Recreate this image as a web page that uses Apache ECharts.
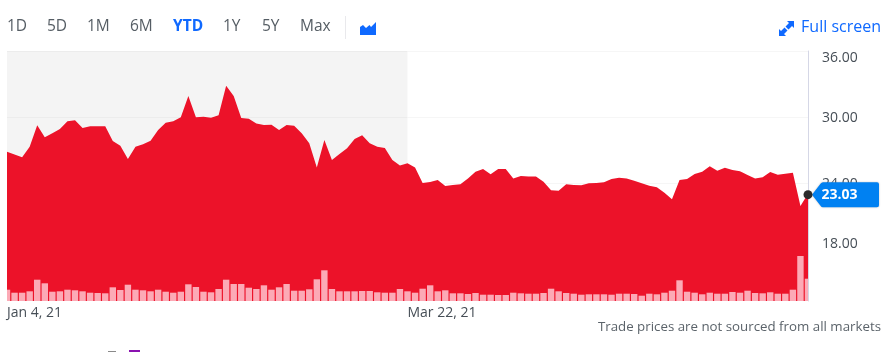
<!DOCTYPE html>
<html>
<head>
<meta charset="utf-8">
<style>
  html, body { margin: 0; padding: 0; background: #fff; }
  #chart { width: 892px; height: 352px; }
</style>
</head>
<body>
<div id="chart"></div>
<script src="https://cdn.jsdelivr.net/npm/echarts@6/dist/echarts.min.js"></script>
<script>
const priceValues = [
  26.85, 26.58, 26.33, 27.30, 29.24, 28.15, 28.52, 28.91, 29.61, 29.70,
  29.00, 29.15, 29.15, 29.15, 27.82, 27.39, 26.18, 27.30, 27.52, 27.85,
  28.82, 29.48, 29.61, 29.97, 31.91, 29.97, 30.03, 29.94, 30.15, 32.85,
  31.91, 29.91, 29.85, 29.42, 29.27, 29.30, 28.82, 29.27, 29.21, 28.52,
  27.61, 25.42, 27.91, 26.09, 26.64, 27.15, 28.00, 28.33, 27.61, 27.30,
  27.18, 26.09, 25.58, 25.79, 25.42, 24.00, 24.09, 24.27, 23.73, 23.82,
  23.88, 24.42, 25.03, 25.27, 24.79, 25.27, 25.27, 24.42, 24.64, 24.58,
  24.58, 24.12, 23.33, 23.30, 23.88, 23.82, 23.79, 23.97, 24.00, 24.06,
  24.36, 24.48, 24.42, 24.21, 23.97, 23.76, 23.61, 23.12, 22.52, 24.27,
  24.36, 24.82, 25.03, 25.52, 25.12, 25.39, 25.18, 25.06, 24.73, 24.42,
  24.52, 25.00, 24.76, 24.85, 24.94, 21.91, 23.03
]
const volumeValues = [
  11.3, 8.3, 8.3, 9.7, 21.3, 17.7, 9.3, 9.7, 11.3, 10.7,
  9.7, 8.3, 8, 7.7, 13.7, 11, 16.3, 11.3, 10.7, 9.7,
  11.3, 9.3, 8.3, 9.3, 16.7, 14, 9.3, 8.7, 12, 21.3,
  17, 17, 13.3, 12, 15.7, 11.3, 13.7, 17, 10.3, 10.3,
  11.7, 21.7, 30.7, 12, 9.7, 9.7, 9.7, 10, 10, 8.7,
  8.3, 8.3, 12, 9.7, 8.3, 12.3, 15.7, 9.7, 10.7, 7.7,
  7.7, 7, 8, 6.3, 6.3, 6, 6, 8.3, 7.7, 7.3,
  7.3, 8, 12.3, 9.7, 8, 7.3, 6.3, 6.7, 6.7, 6.7,
  6.3, 7.3, 7.3, 7, 5.3, 7.3, 6.7, 8.3, 10.3, 20.7,
  9.3, 8.3, 6.7, 8.3, 7.3, 7.3, 9, 8.3, 10.3, 8,
  7.7, 8.7, 7.3, 7.3, 11.3, 45, 22.3
]
const dateTicks = { 0: 'Jan 4, 21', 53: 'Mar 22, 21' }
const priceTicks = [18, 24, 30, 36]
const rangeButtons = ['1D', '5D', '1M', '6M', 'YTD', '1Y', '5Y', 'Max']
const rangeButtonX = [7, 47, 87, 130, 173, 223, 262, 300]
const lastPrice = 23.03
const shadedUntil = 53

const FONT = '"Open Sans", sans-serif'
const BLUE = '#0f69ff'
const GREY = '#464e56'

const categories = priceValues.map((v, i) => dateTicks[i] || String(i))

const rangeTexts = rangeButtons.map((name, i) => ({
  type: 'text',
  left: rangeButtonX[i],
  top: 19,
  style: {
    text: name,
    font: (name === 'YTD' ? 'bold ' : '') + '15.5px ' + FONT,
    fill: name === 'YTD' ? BLUE : '#555d64'
  }
}))

// bars are clipped to the grid, the built-in bar series lets the first and last overflow
const renderVolume = (params, api) => {
  const top = api.coord([api.value(0), api.value(1)])
  const base = api.coord([api.value(0), 0])
  const rect = echarts.graphic.clipRectByRect(
    { x: top[0] - 3.2, y: top[1], width: 6.4, height: base[1] - top[1] },
    params.coordSys
  )
  return rect && { type: 'rect', shape: rect, style: { fill: '#fcaab6' } }
}

const chart = echarts.init(document.getElementById('chart'))
chart.setOption({
  animation: false,
  textStyle: { fontFamily: FONT },
  grid: { left: 7, right: 84, top: 51, height: 250 },
  xAxis: {
    type: 'category',
    data: categories,
    boundaryGap: false,
    axisLine: { show: false },
    axisTick: { show: false },
    splitLine: { show: false },
    axisLabel: {
      interval: (i) => dateTicks[i] !== undefined,
      align: 'left',
      margin: 5,
      fontSize: 14,
      color: GREY,
      fontFamily: FONT
    }
  },
  yAxis: [
    {
      type: 'value',
      position: 'right',
      min: 36 - 250 / 11,
      max: 36,
      axisLine: { show: true, lineStyle: { color: '#d5d7e6', width: 1 } },
      axisTick: { show: false, customValues: priceTicks },
      splitLine: { show: true, lineStyle: { color: 'rgba(0,0,0,0.035)', width: 1 } },
      axisLabel: {
        customValues: priceTicks,
        margin: 14,
        color: GREY,
        fontSize: 14,
        fontFamily: FONT,
        formatter: (v) => {
          const text = v.toFixed(2)
          if (v === 36) return '{top|' + text + '}'
          if (v === 18) return '{bottom|' + text + '}'
          return '{mid|' + text + '}'
        },
        rich: {
          top: { padding: [14, 0, 0, 0], fontSize: 14, color: GREY, fontFamily: FONT },
          mid: { padding: [2, 0, 0, 0], fontSize: 14, color: GREY, fontFamily: FONT },
          bottom: { padding: [0, 0, 10, 0], fontSize: 14, color: GREY, fontFamily: FONT }
        }
      }
    },
    {
      type: 'value',
      show: false,
      min: 0,
      max: 250,
      splitLine: { show: false }
    }
  ],
  series: [
    {
      name: 'Price',
      type: 'line',
      data: priceValues,
      symbol: 'none',
      z: 3,
      lineStyle: { width: 0 },
      areaStyle: { color: '#ec1229', opacity: 1, origin: 'start' },
      markArea: {
        silent: true,
        itemStyle: { color: 'rgba(0,0,0,0.043)' },
        data: [[{ xAxis: 0 }, { xAxis: shadedUntil }]]
      }
    },
    {
      name: 'Volume',
      type: 'custom',
      yAxisIndex: 1,
      data: volumeValues.map((v, i) => [i, v]),
      encode: { x: 0, y: 1 },
      renderItem: renderVolume,
      z: 4
    },
    {
      name: 'Last',
      type: 'line',
      data: [],
      z: 10,
      markPoint: {
        silent: true,
        animation: false,
        data: [
          {
            coord: [priceValues.length - 1, lastPrice],
            symbol: 'path://M0 12.5 L8.5 1.5 Q9.5 0 11 0 L65 0 Q67 0 67 2 L67 23 Q67 25 65 25 L11 25 Q9.5 25 8.5 23.5 Z',
            symbolSize: [67, 25],
            symbolOffset: [37.5, 1],
            itemStyle: { color: '#0081f2', shadowBlur: 2, shadowColor: 'rgba(0,0,0,0.25)' },
            label: {
              show: true,
              formatter: lastPrice.toFixed(2),
              color: '#fff',
              fontSize: 14,
              fontWeight: 'bold',
              fontFamily: FONT,
              position: 'inside',
              offset: [-6, 0]
            }
          },
          {
            coord: [priceValues.length - 1, lastPrice],
            symbol: 'circle',
            symbolSize: 9,
            symbolOffset: [0, 1],
            itemStyle: { color: '#2b2b2b' },
            label: { show: false }
          }
        ]
      }
    }
  ],
  graphic: rangeTexts.concat([
    { type: 'rect', shape: { x: 345, y: 16, width: 1, height: 23 }, style: { fill: '#e9e9ec' } },
    {
      type: 'polygon',
      shape: { points: [[360, 35], [360, 27], [363, 25], [366, 28], [369.5, 25], [371, 27], [376, 22], [376, 35]] },
      style: { fill: BLUE }
    },
    // full screen arrows
    {
      type: 'polygon',
      shape: { points: [[787, 21], [794, 21], [794, 28], [792, 26], [788.5, 29.5], [785.5, 26.5], [789, 23]] },
      style: { fill: BLUE }
    },
    {
      type: 'polygon',
      shape: { points: [[779, 36], [786, 36], [784, 34], [787.5, 30.5], [784.5, 27.5], [781, 31], [779, 29]] },
      style: { fill: BLUE }
    },
    {
      type: 'text',
      right: 11,
      top: 19,
      style: { text: 'Full screen', font: '16px ' + FONT, fill: BLUE }
    },
    {
      type: 'text',
      right: 11,
      top: 321,
      style: { text: 'Trade prices are not sourced from all markets', font: '13.3px ' + FONT, fill: '#5b636a' }
    },
    // tops of the cut off text along the bottom edge
    { type: 'rect', shape: { x: 108, y: 351, width: 8, height: 1 }, style: { fill: '#8a8a8a' } },
    { type: 'rect', shape: { x: 129, y: 350, width: 11, height: 2 }, style: { fill: '#8a12b0' } }
  ])
})
</script>
</body>
</html>
